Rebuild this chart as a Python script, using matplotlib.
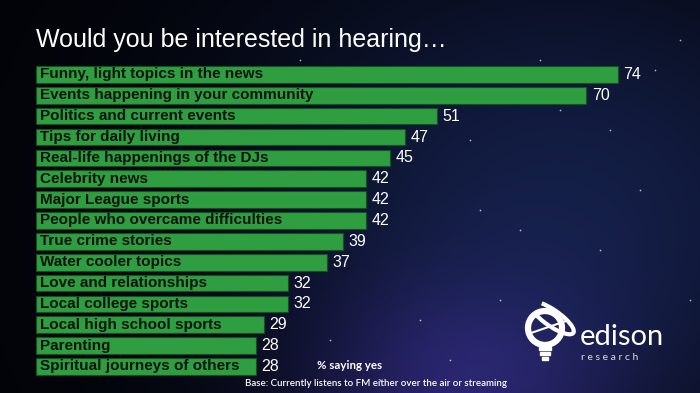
import numpy as np
import matplotlib
matplotlib.use("Agg")
import matplotlib.pyplot as plt
from matplotlib.patches import Circle, Rectangle, Arc

categories = [
    "Funny, light topics in the news",
    "Events happening in your community",
    "Politics and current events",
    "Tips for daily living",
    "Real-life happenings of the DJs",
    "Celebrity news",
    "Major League sports",
    "People who overcame difficulties",
    "True crime stories",
    "Water cooler topics",
    "Love and relationships",
    "Local college sports",
    "Local high school sports",
    "Parenting",
    "Spiritual journeys of others",
]
values = [74, 70, 51, 47, 45, 42, 42, 42, 39, 37, 32, 32, 29, 28, 28]

title = "Would you be interested in hearing\u2026"
unit_note = "% saying yes"
base_note = "Base: Currently listens to FM either over the air or streaming"

W, H = 700, 393
fig = plt.figure(figsize=(W / 100, H / 100), dpi=100)

# background
bg = fig.add_axes([0, 0, 1, 1])
bg.set_axis_off()
yy, xx = np.mgrid[0:H, 0:W]
x = xx / W
y = yy / H
base = np.array([0.008, 0.012, 0.03])
g1 = np.exp(-(((x - 0.80) / 0.45) ** 2 + ((y - 0.55) / 0.65) ** 2))
g2 = np.exp(-(((x - 0.66) / 0.22) ** 2 + ((y - 1.0) / 0.28) ** 2))
img = base + g1[..., None] * np.array([0.07, 0.11, 0.25]) + g2[..., None] * np.array([0.12, 0.07, 0.26])
bg.imshow(np.clip(img, 0, 1), extent=[0, W, H, 0], aspect="auto", zorder=0)
bg.set_xlim(0, W)
bg.set_ylim(H, 0)

# a few fixed stars (decoration)
stars_x = [100, 300, 470, 655, 600, 560, 420, 380, 500, 640, 690, 520, 450, 330, 250, 610, 540, 480, 130, 680]
stars_y = [180, 60, 140, 70, 250, 110, 320, 380, 300, 190, 300, 230, 360, 340, 345, 130, 60, 210, 365, 40]
bg.scatter(stars_x, stars_y, s=1.5, color="white", alpha=0.7, zorder=1, linewidths=0)

# bars
px_per_unit = 7.86
left_px, top_px, pitch = 36, 64, 20.86
ax = fig.add_axes([left_px / W, 1 - (top_px + 15 * pitch) / H, (W - left_px) / W, 15 * pitch / H])
ax.patch.set_alpha(0)
ypos = np.arange(len(categories))
ax.barh(ypos, values, height=0.8, color="#2f9e41", edgecolor="#17501f", linewidth=0.8)
ax.set_ylim(len(categories) - 0.5, -0.5)
ax.set_xlim(0, (W - left_px) / px_per_unit)
ax.set_axis_off()
for i, (c, v) in enumerate(zip(categories, values)):
    ax.text(0.5, i, c, va="center", ha="left", fontsize=11, fontweight="bold",
            color="#07140a", family="Liberation Sans")
    ax.annotate(str(v), (v, i), xytext=(4, 0), textcoords="offset points",
                va="center", ha="left", color="white", fontsize=11.5, family="Liberation Sans")

# texts
bg.text(36, 47, title, color="white", fontsize=18, family="Liberation Sans", va="baseline", ha="left")
bg.text(317, 369, unit_note, color="white", fontsize=8.3, fontweight="bold", family="Lato", va="baseline")
bg.text(245, 386, base_note, color="white", fontsize=7, fontweight="semibold", family="Lato", va="baseline")

# logo
bg.add_patch(Circle((545, 328), 17, fill=False, edgecolor="white", linewidth=4.5, zorder=3))
bg.add_patch(Arc((552, 318), 52, 16, angle=35, theta1=200, theta2=520, edgecolor="white", linewidth=3, zorder=3))
bg.plot([531, 566], [333, 321], color="white", lw=1.5, zorder=3)
bg.add_patch(Rectangle((539, 347), 12, 3, color="white", zorder=3))
bg.add_patch(Rectangle((540, 352), 10, 3, color="white", zorder=3))
bg.add_patch(Rectangle((542, 357), 6, 3, color="white", zorder=3))
bg.text(580, 345, "edison", color="white", fontsize=21, family="Lato", va="baseline")
bg.text(581, 360, "r e s e a r c h", color="#dddde8", fontsize=7.5, family="Lato", va="baseline")

fig.savefig("out.png", dpi=100)
